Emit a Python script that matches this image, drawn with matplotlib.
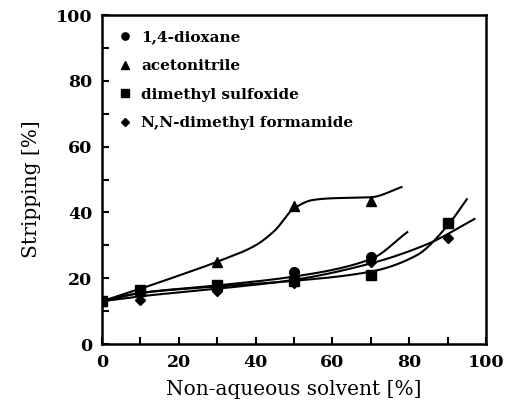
import numpy as np
import matplotlib
matplotlib.use("Agg")
import matplotlib.pyplot as plt

# ---- data ----
series_names = ["1,4-dioxane", "acetonitrile", "dimethyl sulfoxide", "N,N-dimethyl formamide"]
markers = ["o", "^", "s", "D"]

dioxane_x = [0, 10, 30, 50, 70]
dioxane_y = [13, 16, 17.5, 22, 26.5]
acetonitrile_x = [0, 10, 30, 50, 70]
acetonitrile_y = [13, 16.2, 25, 42, 43.5]
dmso_x = [0, 10, 30, 50, 70, 90]
dmso_y = [13, 16.3, 17.8, 19, 21, 36.8]
dmf_x = [0, 10, 30, 50, 70, 90]
dmf_y = [13, 13.5, 16.2, 18.5, 25, 32.3]

# smooth guide-line knots
dioxane_curve_x = [0, 10, 30, 50, 70, 79.5]
dioxane_curve_y = [13, 15.5, 17.8, 20.5, 25.8, 34]
acetonitrile_curve_x = [0, 10, 20, 30, 40, 45, 50, 55, 60, 70, 78]
acetonitrile_curve_y = [13, 16.8, 20.8, 25, 30, 34.5, 41.2, 43.8, 44.3, 44.6, 47.7]
dmso_curve_x = [0, 10, 30, 50, 70, 82, 90, 95]
dmso_curve_y = [13, 15.5, 17.5, 19.2, 22, 27, 36, 44]
dmf_curve_x = [0, 10, 30, 50, 70, 85, 97]
dmf_curve_y = [13, 14.5, 16.8, 19.5, 24.5, 30.5, 38]

x_ticks_major = [0, 20, 40, 60, 80, 100]
y_ticks_major = [0, 20, 40, 60, 80, 100]


def pchip(xk, yk, xs):
    xk = np.asarray(xk, float); yk = np.asarray(yk, float)
    h = np.diff(xk); d = np.diff(yk) / h
    n = len(xk)
    m = np.zeros(n)
    for i in range(1, n - 1):
        if d[i - 1] * d[i] > 0:
            w1 = 2 * h[i] + h[i - 1]; w2 = h[i] + 2 * h[i - 1]
            m[i] = (w1 + w2) / (w1 / d[i - 1] + w2 / d[i])
    m[0] = d[0]; m[-1] = d[-1]
    out = np.empty_like(xs)
    for j, x in enumerate(xs):
        i = min(max(np.searchsorted(xk, x) - 1, 0), n - 2)
        t = (x - xk[i]) / h[i]
        h00 = 2*t**3 - 3*t**2 + 1; h10 = t**3 - 2*t**2 + t
        h01 = -2*t**3 + 3*t**2; h11 = t**3 - t**2
        out[j] = h00*yk[i] + h10*h[i]*m[i] + h01*yk[i+1] + h11*h[i]*m[i+1]
    return out


plt.rcParams['font.family'] = ['DejaVu Serif']
fig = plt.figure(figsize=(5.08, 4.11), dpi=100)
ax = fig.add_axes([0.2008, 0.163, 0.7559, 0.8005])

data = [(dioxane_x, dioxane_y, dioxane_curve_x, dioxane_curve_y),
        (acetonitrile_x, acetonitrile_y, acetonitrile_curve_x, acetonitrile_curve_y),
        (dmso_x, dmso_y, dmso_curve_x, dmso_curve_y),
        (dmf_x, dmf_y, dmf_curve_x, dmf_curve_y)]
msizes = [7, 7, 7, 5.5]
for (px, py, cx, cy), mk, name, ms in zip(data, markers, series_names, msizes):
    xs = np.linspace(cx[0], cx[-1], 200)
    ax.plot(xs, pchip(cx, cy, xs), color='black', lw=1.5, zorder=2)
    ax.plot(px, py, linestyle='none', marker=mk, color='black', ms=ms, zorder=3,
            label=name)

ax.set_xlim(0, 100)
ax.set_ylim(0, 100)
ax.set_xticks(x_ticks_major)
ax.set_yticks(y_ticks_major)
ax.set_xticks(np.arange(0, 101, 10), minor=True)
ax.set_yticks(np.arange(0, 101, 10), minor=True)
ax.tick_params(which='both', direction='in', length=5, width=1.5, top=False, right=False)
ax.tick_params(which='major', labelsize=12.5, pad=7)
for lab in ax.get_xticklabels() + ax.get_yticklabels():
    lab.set_fontweight('bold')
for s in ax.spines.values():
    s.set_linewidth(1.8)

ax.set_xlabel("Non-aqueous solvent [%]", fontsize=14.5)
ax.set_ylabel("Stripping [%]", fontsize=14.5)
ax.xaxis.set_label_coords(0.5, -0.11)
ax.yaxis.set_label_coords(-0.16, 0.47)

leg = ax.legend(loc='upper left', bbox_to_anchor=(0.031, 0.972), borderaxespad=0,
                frameon=False, prop={'weight': 'bold', 'size': 11},
                handlelength=0.6, handletextpad=0.8, labelspacing=0.96,
                borderpad=0.4, markerscale=0.75)

fig.savefig("out.png", dpi=100)
